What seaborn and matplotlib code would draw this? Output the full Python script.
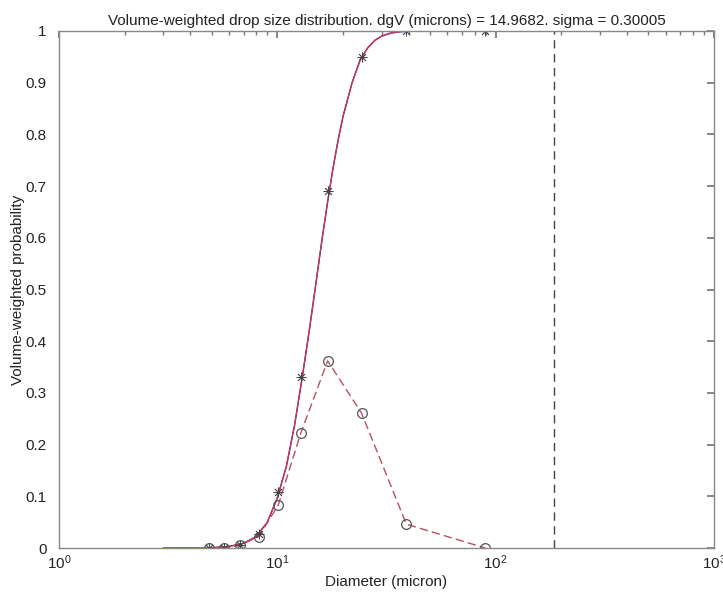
import numpy as np
import pandas as pd
import matplotlib
matplotlib.use("Agg")
import matplotlib.pyplot as plt
import seaborn as sns
from matplotlib.ticker import LogLocator, NullFormatter

# ---- data ----
diam = [4.87, 5.68, 6.72, 8.21, 10.1, 12.8, 17.0, 24.3, 39.0, 89.6]
cum_prob = [0.0, 0.0, 0.005, 0.027, 0.108, 0.331, 0.690, 0.950, 1.0, 1.0]
bin_prob = [0.0, 0.0, 0.005, 0.022, 0.083, 0.222, 0.362, 0.261, 0.046, 0.0]

fit_d = [3, 4, 4.87, 5, 6, 7, 8, 9, 10, 11, 12, 13, 14, 15, 16, 17, 18, 19, 20,
         22, 24, 26, 28, 30, 33, 36, 40]
fit_p = [0.0, 0.0, 0.0, 0.0005, 0.003, 0.009, 0.022, 0.05, 0.097, 0.158, 0.238,
         0.33, 0.42, 0.51, 0.595, 0.67, 0.735, 0.79, 0.835,
         0.90, 0.945, 0.968, 0.982, 0.99, 0.996, 0.998, 1.0]
red_range = (4.87, 36)
d_max = 185

title = "Volume-weighted drop size distribution. dgV (microns) = 14.9682. sigma = 0.30005"

sns.set_theme(style="white")
plt.rcParams["font.family"] = ["Liberation Sans", "DejaVu Sans"]

fig = plt.figure(figsize=(7.23, 5.95), dpi=100)
ax = fig.add_axes([59/723, 1-548/595, (714-59)/723, (548-31)/595])

fit = pd.DataFrame({"d": fit_d, "p": fit_p})
red = fit[(fit.d >= red_range[0]) & (fit.d <= red_range[1])]
pts = pd.DataFrame({"d": diam, "cum": cum_prob, "bin": bin_prob})

sns.lineplot(data=fit, x="d", y="p", ax=ax, color="#2a2ab8", lw=1.0, sort=True)
sns.lineplot(data=red, x="d", y="p", ax=ax, color="#d8304a", lw=0.9, sort=True)
sns.lineplot(data=pts, x="d", y="bin", ax=ax, color="#b85060", lw=1.0,
             linestyle=(0, (6, 3)), sort=True)
ax.plot(pts["d"], pts["bin"], linestyle="none", marker="o", ms=7,
        mfc="none", mec="#555555", mew=0.9)
ax.plot(pts["d"], pts["cum"], linestyle="none", marker=(8, 2, 0), ms=7,
        mfc="none", mec="#444444", mew=0.6)
ax.plot([d_max, d_max], [0, 1], color="#444444", lw=1.0, linestyle=(0, (6, 4)))

ax.set_xscale("log")
ax.set_xlim(1, 1000)
ax.set_ylim(0, 1)
ax.set_yticks(np.arange(0, 1.01, 0.1))
ax.set_yticklabels(["0", "0.1", "0.2", "0.3", "0.4", "0.5", "0.6", "0.7", "0.8", "0.9", "1"])
ax.xaxis.set_major_locator(LogLocator(base=10, numticks=10))
ax.xaxis.set_minor_locator(LogLocator(base=10, subs=np.arange(2, 10), numticks=20))
ax.xaxis.set_minor_formatter(NullFormatter())

for s in ax.spines.values():
    s.set_color("#888888")
    s.set_linewidth(1.0)
ax.tick_params(which="both", direction="in", top=True, right=True,
               color="#777777", labelsize=11, labelcolor="#222222")
ax.tick_params(which="major", length=5)
ax.tick_params(which="minor", length=3)
ax.tick_params(axis="x", pad=4)
ax.tick_params(axis="y", pad=9)

ax.set_xlabel("Diameter (micron)", fontsize=11, color="#222222", labelpad=2)
ax.set_ylabel("Volume-weighted probability", fontsize=11, color="#222222", labelpad=0)
ax.set_title(title, fontsize=11, color="#222222", pad=4)

fig.savefig("out.png", dpi=100)
